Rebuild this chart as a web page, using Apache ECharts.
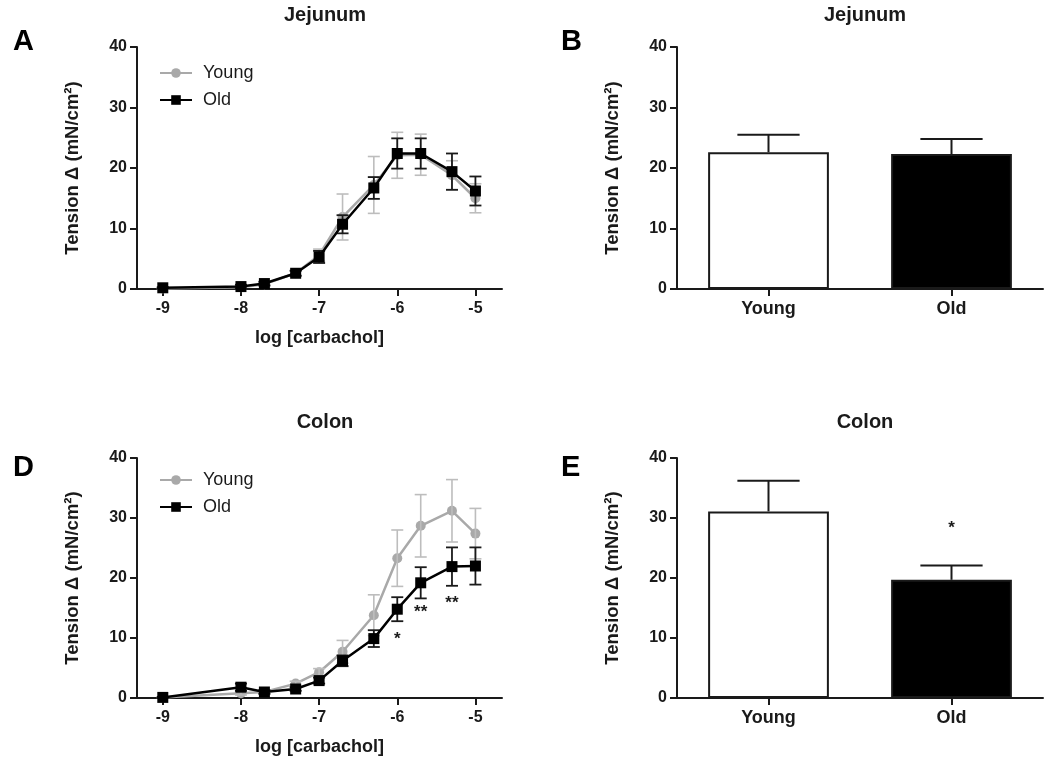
<!DOCTYPE html>
<html><head><meta charset="utf-8">
<script src="https://cdn.jsdelivr.net/npm/echarts@6/dist/echarts.min.js"></script>
<style>html,body{margin:0;padding:0;background:#fff}#c{width:1050px;height:766px}</style>
</head><body><div id="c"></div>
<script>
// ---- data ----
const logCarbachol = [-9, -8, -7.7, -7.3, -7, -6.7, -6.3, -6, -5.7, -5.3, -5];
const xTickValues = [-9, -8, -7, -6, -5];
const yTickMax = 40;
const groups = ['Young', 'Old'];

const jejYoungMean = [0.1, 0.3, 0.8, 2.6, 5.6, 11.9, 17.2, 22.1, 22.2, 18.8, 15.0];
const jejYoungSem  = [0.1, 0.2, 0.3, 0.5, 1.0, 3.8, 4.7, 3.8, 3.4, 2.4, 2.4];
const jejOldMean   = [0.2, 0.4, 0.9, 2.6, 5.3, 10.7, 16.7, 22.4, 22.4, 19.4, 16.2];
const jejOldSem    = [0.1, 0.3, 0.3, 0.4, 1.0, 1.5, 1.8, 2.5, 2.5, 3.0, 2.4];

const colYoungMean = [0.1, 0.8, 1.0, 2.4, 4.3, 7.7, 13.8, 23.3, 28.7, 31.2, 27.4];
const colYoungSem  = [0.1, 0.3, 0.3, 0.4, 0.6, 1.9, 3.4, 4.7, 5.2, 5.2, 4.2];
const colOldMean   = [0.1, 1.8, 1.0, 1.5, 2.9, 6.2, 9.9, 14.8, 19.2, 21.9, 22.0];
const colOldSem    = [0.1, 0.6, 0.3, 0.3, 0.5, 0.9, 1.4, 2.0, 2.6, 3.2, 3.1];

const jejBarMean = [22.6, 22.3];
const jejBarSem  = [2.9, 2.5];
const colBarMean = [31.1, 19.7];
const colBarSem  = [5.1, 2.4];

const colCurveSigX = [-6, -5.7, -5.3];
const colCurveSigY = [9.8, 14.2, 15.8];
const colCurveSigText = ['*', '**', '**'];
const colBarSigY = [null, 28.3];
const colBarSigText = ['', '*'];

// ---- styles ----
const FF = '"Liberation Sans", Arial, Helvetica, sans-serif';
const INK = '#1a1a1a';
const GREY = '#a9a9a9';
const GREY_ERR = '#bdbdbd';
const barFills = ['#ffffff', '#000000'];
const yName = 'Tension \u0394 (mN/cm\u00b2)';

const chart = echarts.init(document.getElementById('c'), null, {renderer: 'canvas'});

function zip2(xs, ys) { return xs.map((x, i) => [x, ys[i]]); }
function errData(xs, m, s) { return xs.map((x, i) => [x, m[i] - s[i], m[i] + s[i]]); }

function errRender(color, cap, lw) {
  return function (params, api) {
    const x = api.value(0), lo = api.value(1), hi = api.value(2);
    const a = api.coord([x, lo]), b = api.coord([x, hi]);
    const st = {stroke: color, lineWidth: lw};
    return {type: 'group', children: [
      {type: 'line', shape: {x1: a[0], y1: a[1], x2: b[0], y2: b[1]}, style: st},
      {type: 'line', shape: {x1: a[0] - cap, y1: a[1], x2: a[0] + cap, y2: a[1]}, style: st},
      {type: 'line', shape: {x1: b[0] - cap, y1: b[1], x2: b[0] + cap, y2: b[1]}, style: st}
    ]};
  };
}
function barErrRender(params, api) {
  const i = api.value(0), v = api.value(1), hi = api.value(2);
  const a = api.coord([i, v]), b = api.coord([i, hi]);
  const cap = api.size([1, 0])[0] * 0.17;
  const st = {stroke: INK, lineWidth: 2};
  return {type: 'group', children: [
    {type: 'line', shape: {x1: a[0], y1: a[1], x2: b[0], y2: b[1]}, style: st},
    {type: 'line', shape: {x1: b[0] - cap, y1: b[1], x2: b[0] + cap, y2: b[1]}, style: st}
  ]};
}
function textRender(texts) {
  return function (params, api) {
    const p = api.coord([api.value(0), api.value(1)]);
    return {type: 'text', x: p[0], y: p[1], style: {text: texts[params.dataIndex], fontFamily: FF, fontSize: 17, fontWeight: 'bold', fill: INK, align: 'center', verticalAlign: 'middle'}};
  };
}

const grids = [
  {left: 137, right: 548, top: 47, bottom: 477},
  {left: 677, right: 7, top: 47, bottom: 477},
  {left: 137, right: 548, top: 458, bottom: 68},
  {left: 677, right: 7, top: 458, bottom: 68}
].map(g => Object.assign({outerBoundsMode: 'none', containLabel: false}, g));

const axisLineStyle = {show: true, onZero: false, lineStyle: {color: INK, width: 2}};
const tickStyle = {show: true, length: 7, lineStyle: {color: INK, width: 2}};
const labelStyle = {color: INK, fontFamily: FF, fontSize: 16, fontWeight: 'bold'};

function valueX(gi, withName) {
  return {type: 'value', gridIndex: gi, min: -9.33, max: -4.66,
    axisLine: axisLineStyle,
    axisTick: Object.assign({customValues: xTickValues}, tickStyle),
    axisLabel: Object.assign({customValues: xTickValues, margin: 12, formatter: v => String(v)}, labelStyle),
    splitLine: {show: false},
    name: withName ? 'log [carbachol]' : '', nameLocation: 'middle', nameGap: 40,
    nameTextStyle: {color: INK, fontFamily: FF, fontSize: 18, fontWeight: 'bold'}};
}
function catX(gi) {
  return {type: 'category', gridIndex: gi, data: groups,
    axisLine: axisLineStyle,
    axisTick: Object.assign({alignWithLabel: true}, tickStyle),
    axisLabel: Object.assign({margin: 11}, labelStyle, {fontSize: 18}),
    splitLine: {show: false}};
}
function valueY(gi) {
  return {type: 'value', gridIndex: gi, min: 0, max: yTickMax, interval: 10,
    axisLine: axisLineStyle, axisTick: tickStyle,
    axisLabel: Object.assign({margin: 10}, labelStyle),
    splitLine: {show: false},
    name: yName, nameLocation: 'middle', nameGap: 55, nameRotate: 90,
    nameTextStyle: {color: INK, fontFamily: FF, fontSize: 18.5, fontWeight: 'bold'}};
}

function curveSeries(gi, yMean, ySem, oMean, oSem) {
  return [
    {type: 'line', name: 'Young', xAxisIndex: gi, yAxisIndex: gi, data: zip2(logCarbachol, yMean),
      symbol: 'circle', symbolSize: 10, color: GREY, lineStyle: {color: GREY, width: 2.5},
      itemStyle: {color: GREY}, z: 2, animation: false},
    {type: 'custom', xAxisIndex: gi, yAxisIndex: gi, data: errData(logCarbachol, yMean, ySem),
      encode: {x: 0, y: [1, 2]}, renderItem: errRender(GREY_ERR, 6, 1.6), z: 3, animation: false},
    {type: 'custom', xAxisIndex: gi, yAxisIndex: gi, data: errData(logCarbachol, oMean, oSem),
      encode: {x: 0, y: [1, 2]}, renderItem: errRender(INK, 6, 1.8), z: 4, animation: false},
    {type: 'line', name: 'Old', xAxisIndex: gi, yAxisIndex: gi, data: zip2(logCarbachol, oMean),
      symbol: 'rect', symbolSize: 11, color: '#000', lineStyle: {color: '#000', width: 2.5},
      itemStyle: {color: '#000'}, z: 5, animation: false}
  ];
}
function barSeries(gi, mean, sem) {
  return [
    {type: 'bar', xAxisIndex: gi, yAxisIndex: gi, barWidth: '66%',
      data: mean.map((v, i) => ({value: v, itemStyle: {color: barFills[i]}})),
      itemStyle: {borderColor: INK, borderWidth: 2}, z: 2, animation: false},
    {type: 'custom', xAxisIndex: gi, yAxisIndex: gi, data: mean.map((v, i) => [i, v, v + sem[i]]),
      encode: {x: 0, y: [1, 2]}, renderItem: barErrRender, z: 3, animation: false}
  ];
}

const titleFont = {color: INK, fontFamily: FF, fontSize: 20, fontWeight: 'bold'};
const letterFont = {color: '#000', fontFamily: FF, fontSize: 29, fontWeight: 'bold'};
const legendBase = {orient: 'vertical', data: groups, itemWidth: 32, itemHeight: 12, itemGap: 9,
  selectedMode: false, textStyle: {color: INK, fontFamily: FF, fontSize: 18, padding: [0, 0, 0, 6]}};

chart.setOption({
  backgroundColor: '#fff',
  animation: false,
  title: [
    {text: 'Jejunum', left: 320, top: 0, textAlign: 'center', textStyle: titleFont},
    {text: 'Jejunum', left: 860, top: 0, textAlign: 'center', textStyle: titleFont},
    {text: 'Colon', left: 320, top: 407, textAlign: 'center', textStyle: titleFont},
    {text: 'Colon', left: 860, top: 407, textAlign: 'center', textStyle: titleFont},
    {text: 'A', left: 8, top: 22, textStyle: letterFont},
    {text: 'B', left: 556, top: 22, textStyle: letterFont},
    {text: 'D', left: 8, top: 448, textStyle: letterFont},
    {text: 'E', left: 556, top: 448, textStyle: letterFont}
  ],
  legend: [
    Object.assign({left: 154, top: 59}, legendBase),
    Object.assign({left: 154, top: 466}, legendBase)
  ],
  grid: grids,
  xAxis: [valueX(0, true), catX(1), valueX(2, true), catX(3)],
  yAxis: [valueY(0), valueY(1), valueY(2), valueY(3)],
  series: [
    ...curveSeries(0, jejYoungMean, jejYoungSem, jejOldMean, jejOldSem),
    ...barSeries(1, jejBarMean, jejBarSem),
    ...curveSeries(2, colYoungMean, colYoungSem, colOldMean, colOldSem),
    {type: 'custom', xAxisIndex: 2, yAxisIndex: 2, data: zip2(colCurveSigX, colCurveSigY),
      renderItem: textRender(colCurveSigText), z: 6, animation: false},
    ...barSeries(3, colBarMean, colBarSem),
    {type: 'custom', xAxisIndex: 3, yAxisIndex: 3,
      data: colBarSigY.map((v, i) => v == null ? null : [i, v]).filter(d => d),
      renderItem: textRender(colBarSigText.filter(t => t)), z: 6, animation: false}
  ]
});
</script>
</body></html>
